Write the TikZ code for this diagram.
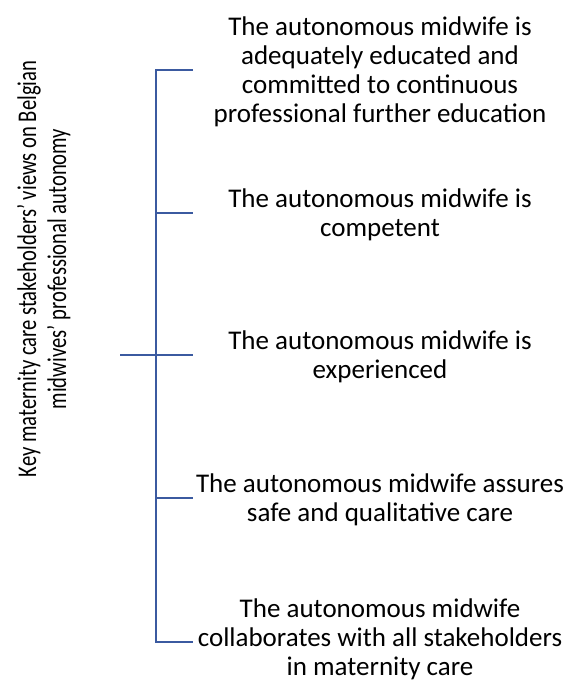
\documentclass[tikz,border=0pt]{standalone}
\usepackage{fontspec}
\setmainfont{Carlito}
\definecolor{treeblue}{RGB}{59,90,160}
\tikzset{
  branch/.style={draw=treeblue, line width=2.2pt},
  leaf/.style={align=center, font=\fontsize{27}{29}\selectfont, inner sep=0pt}
}
\begin{document}
\begin{tikzpicture}[x=1pt, y=-1pt]
\useasboundingbox (0,0) rectangle (565,681);
% left title
\node[inner sep=0pt, rotate=90, font=\fontsize{27}{30}\selectfont] (title) at (45,269)
  {\scalebox{0.764}[1]{\begin{tabular}{@{}c@{}}Key maternity care stakeholders’ views on Belgian\\ midwives’ professional autonomy\end{tabular}}};
% branch points
\coordinate (k) at (120,355);
\coordinate (b1) at (156,70);  \coordinate (e1) at (193,70);
\coordinate (b2) at (156,213); \coordinate (e2) at (193,213);
\coordinate (b3) at (156,355); \coordinate (e3) at (193,355);
\coordinate (b4) at (156,498); \coordinate (e4) at (193,498);
\coordinate (b5) at (156,642); \coordinate (e5) at (193,642);
% leaves
\node[leaf] (t1) at (380,72) {The autonomous midwife is\\ adequately educated and\\ committed to continuous\\ professional further education};
\node[leaf] (t2) at (380,215) {The autonomous midwife is\\ competent};
\node[leaf] (t3) at (380,357) {The autonomous midwife is\\ experienced};
\node[leaf] (t4) at (380,500) {The autonomous midwife assures\\ safe and qualitative care};
\node[leaf] (t5) at (380,639) {The autonomous midwife\\ collaborates with all stakeholders\\ in maternity care};
\draw[branch] (k) -- (b3);
\draw[branch] (e1) -- (b1) -- (b5) -- (e5);
\draw[branch] (b2) -- (e2); \draw[branch] (b3) -- (e3); \draw[branch] (b4) -- (e4);
\end{tikzpicture}
\end{document}
